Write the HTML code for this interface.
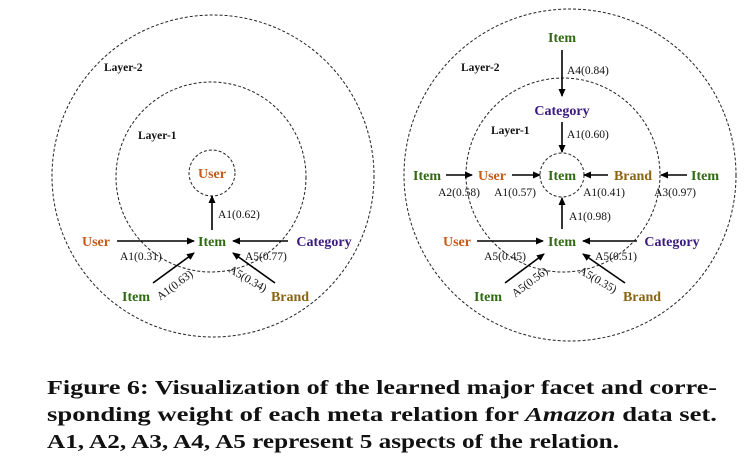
<!DOCTYPE html>
<html><head><meta charset="utf-8"><style>
html,body{margin:0;padding:0;background:#fff;width:754px;height:471px;overflow:hidden}
svg{display:block}
.n{font-family:"Liberation Serif","Times New Roman",Times,serif;font-weight:bold;font-size:14px;text-anchor:middle}
.u{fill:#c55a1a}.i{fill:#2f6a12}.c{fill:#3b1a7e}.b{fill:#8a6410}
.l{font-family:"Liberation Serif","Times New Roman",Times,serif;font-size:11.5px;fill:#111}
.ly{font-family:"Liberation Serif","Times New Roman",Times,serif;font-weight:bold;font-size:11.5px;fill:#111}
.cap{font-family:"Liberation Serif","Times New Roman",Times,serif;font-weight:bold;font-size:20px;fill:#111}
.ci{fill:none;stroke:#222;stroke-width:1;stroke-dasharray:3,2}
.a{stroke:#000;stroke-width:1.6;marker-end:url(#ah)}
</style></head><body>
<svg width="754" height="471" viewBox="0 0 754 471">
<defs><marker id="ah" markerWidth="8" markerHeight="8" refX="7" refY="4" orient="auto" markerUnits="userSpaceOnUse"><path d="M0,0.5 L8,4 L0,7.5 Z" fill="#000"/></marker></defs>

<g>
<circle class="ci" cx="213" cy="176" r="161"/>
<circle class="ci" cx="211" cy="177" r="95"/>
<circle class="ci" cx="212" cy="173" r="23"/>
<text class="ly" x="104" y="71">Layer-2</text>
<text class="ly" x="138" y="139">Layer-1</text>
<text class="n u" x="212" y="178">User</text>
<line class="a" x1="212" y1="230" x2="212" y2="196"/>
<text class="l" x="218" y="218">A1(0.62)</text>
<text class="n i" x="212" y="246">Item</text>
<text class="n u" x="96" y="246">User</text>
<line class="a" x1="117" y1="241" x2="194" y2="241"/>
<text class="l" x="120" y="260">A1(0.31)</text>
<text class="n c" x="324" y="246">Category</text>
<line class="a" x1="288" y1="241" x2="233" y2="241"/>
<text class="l" x="245" y="260">A5(0.77)</text>
<line class="a" x1="153" y1="283" x2="194" y2="253"/>
<line class="a" x1="275" y1="283" x2="233" y2="253"/>
<text class="n i" x="136" y="301">Item</text>
<text class="n b" x="290" y="301">Brand</text>
<text class="l" transform="translate(177,288) rotate(-37)" text-anchor="middle">A1(0.63)</text>
<text class="l" transform="translate(246,282) rotate(30)" text-anchor="middle">A5(0.34)</text>
</g>

<g>
<circle class="ci" cx="570" cy="175" r="166"/>
<circle class="ci" cx="563" cy="175" r="97"/>
<circle class="ci" cx="562" cy="175" r="22"/>
<text class="ly" x="461" y="71">Layer-2</text>
<text class="ly" x="491" y="134">Layer-1</text>
<text class="n i" x="562" y="42">Item</text>
<line class="a" x1="562" y1="50" x2="562" y2="96"/>
<text class="l" x="567" y="74">A4(0.84)</text>
<text class="n c" x="562" y="115">Category</text>
<line class="a" x1="562" y1="122" x2="562" y2="152"/>
<text class="l" x="567" y="138">A1(0.60)</text>
<text class="n i" x="562" y="180">Item</text>
<text class="n i" x="427" y="180">Item</text>
<line class="a" x1="446" y1="175" x2="472" y2="175"/>
<text class="n u" x="492" y="180">User</text>
<line class="a" x1="512" y1="175" x2="540" y2="175"/>
<text class="n b" x="633" y="180">Brand</text>
<line class="a" x1="608" y1="175" x2="584" y2="175"/>
<text class="n i" x="705" y="180">Item</text>
<line class="a" x1="687" y1="175" x2="661" y2="175"/>
<text class="l" x="459" y="196" text-anchor="middle">A2(0.58)</text>
<text class="l" x="515" y="196" text-anchor="middle">A1(0.57)</text>
<text class="l" x="604" y="196" text-anchor="middle">A1(0.41)</text>
<text class="l" x="675" y="196" text-anchor="middle">A3(0.97)</text>
<line class="a" x1="562" y1="229" x2="562" y2="198"/>
<text class="l" x="569" y="220">A1(0.98)</text>
<text class="n i" x="562" y="246">Item</text>
<text class="n u" x="457" y="246">User</text>
<line class="a" x1="477" y1="241" x2="543" y2="241"/>
<text class="n c" x="672" y="246">Category</text>
<line class="a" x1="637" y1="241" x2="583" y2="241"/>
<text class="l" x="505" y="260" text-anchor="middle">A5(0.45)</text>
<text class="l" x="616" y="260" text-anchor="middle">A5(0.51)</text>
<line class="a" x1="505" y1="283" x2="544" y2="254"/>
<line class="a" x1="625" y1="283" x2="583" y2="254"/>
<text class="n i" x="488" y="301">Item</text>
<text class="n b" x="642" y="301">Brand</text>
<text class="l" transform="translate(532,285) rotate(-37)" text-anchor="middle">A5(0.56)</text>
<text class="l" transform="translate(596,283) rotate(30)" text-anchor="middle">A5(0.35)</text>
</g>

<g>
<text class="cap" x="47" y="394" textLength="670" lengthAdjust="spacingAndGlyphs">Figure 6: Visualization of the learned major facet and corre-</text>
<text class="cap" x="47" y="421" textLength="670" lengthAdjust="spacingAndGlyphs">sponding weight of each meta relation for <tspan font-style="italic">Amazon</tspan> data set.</text>
<text class="cap" x="47" y="448" textLength="572" lengthAdjust="spacingAndGlyphs">A1, A2, A3, A4, A5 represent 5 aspects of the relation.</text>
</g>
</svg>
</body></html>
